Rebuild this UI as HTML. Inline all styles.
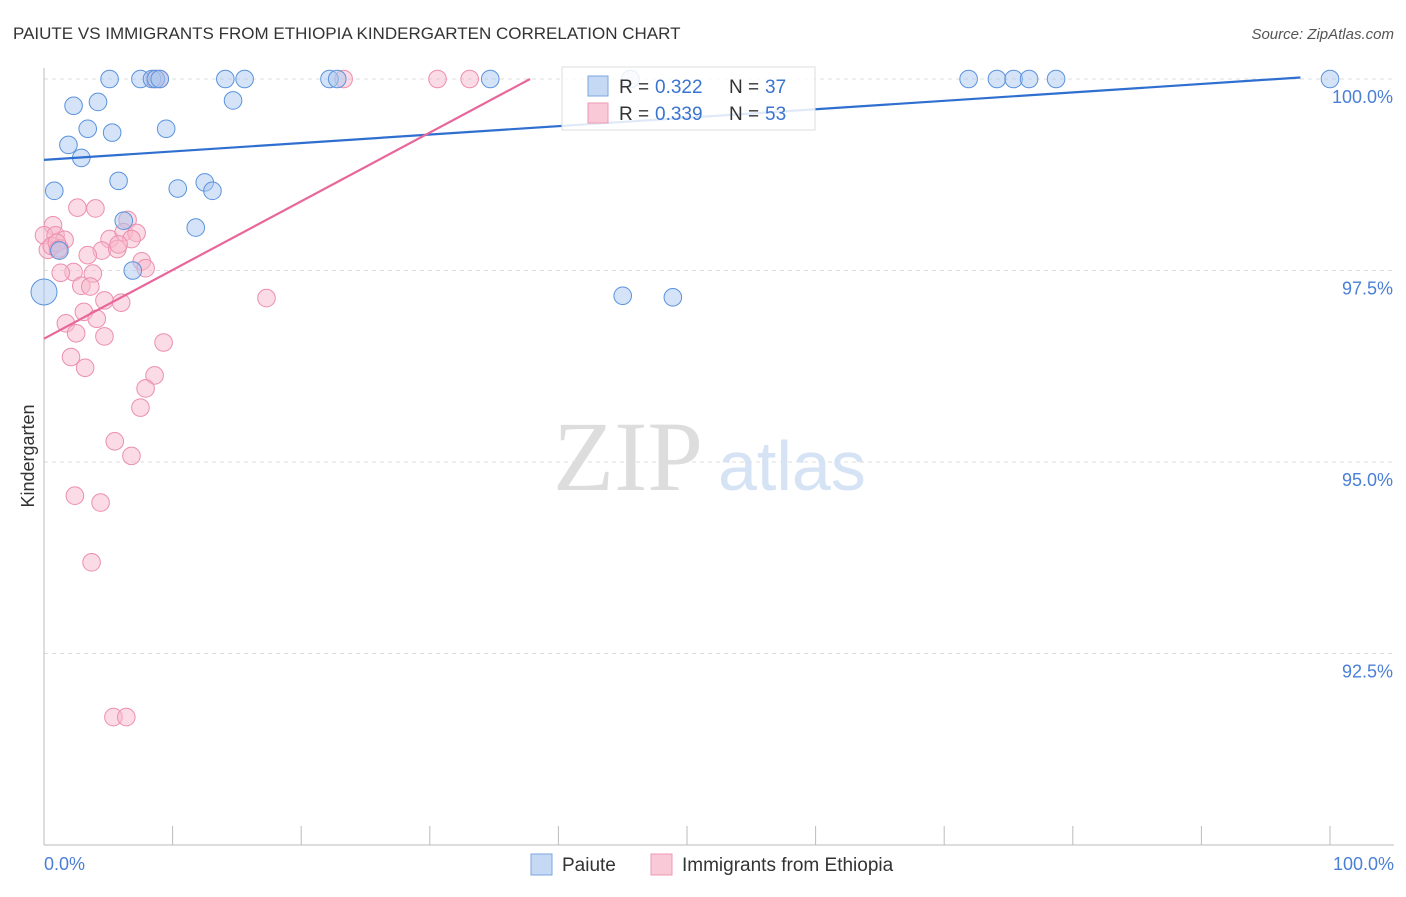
<!DOCTYPE html>
<html><head><meta charset="utf-8"><style>
body{margin:0;background:#fff;font-family:"Liberation Sans",sans-serif}
svg text{font-family:"Liberation Sans",sans-serif}
</style></head><body>
<svg width="1406" height="892">
<text x="13" y="39" font-size="17" fill="#333">PAIUTE VS IMMIGRANTS FROM ETHIOPIA KINDERGARTEN CORRELATION CHART</text>
<text x="1394" y="39" font-size="15" fill="#555" text-anchor="end" font-style="italic">Source: ZipAtlas.com</text>
<g id="grid"></g>
<text x="553" y="490" font-size="100" fill="#ddd" style="font-family:'Liberation Serif',serif">ZIP</text>
<text x="718" y="490" font-size="70" fill="#d6e3f5">atlas</text>
<line x1="44" y1="68" x2="44" y2="845" stroke="#bbb"/>
<line x1="44" y1="845" x2="1394" y2="845" stroke="#bbb"/>
<text transform="translate(34,456) rotate(-90)" font-size="18" fill="#333" text-anchor="middle">Kindergarten</text>
<text x="44" y="870" font-size="18" fill="#4a7fd6">0.0%</text>
<text x="1394" y="870" font-size="18" fill="#4a7fd6" text-anchor="end">100.0%</text>
<g id="marks"></g>
<g>
<rect x="562" y="67" width="253" height="63" fill="#fff" fill-opacity="0.85" stroke="#ddd"/>
<rect x="588" y="76" width="20" height="20" fill="#c5d9f5" stroke="#7aa6e0"/>
<rect x="588" y="103" width="20" height="20" fill="#f9c9d8" stroke="#ee99b5"/>
<text x="619" y="93" font-size="19" fill="#333">R =</text>
<text x="655" y="93" font-size="19" fill="#3a74d0">0.322</text>
<text x="729" y="93" font-size="19" fill="#333">N =</text>
<text x="765" y="93" font-size="19" fill="#3a74d0">37</text>
<text x="619" y="120" font-size="19" fill="#333">R =</text>
<text x="655" y="120" font-size="19" fill="#3a74d0">0.339</text>
<text x="729" y="120" font-size="19" fill="#333">N =</text>
<text x="765" y="120" font-size="19" fill="#3a74d0">53</text>
</g>
<g>
<rect x="531" y="854" width="21" height="21" fill="#c5d9f5" stroke="#7aa6e0"/>
<text x="562" y="871" font-size="19" fill="#333">Paiute</text>
<rect x="651" y="854" width="21" height="21" fill="#f9c9d8" stroke="#ee99b5"/>
<text x="682" y="871" font-size="19" fill="#333">Immigrants from Ethiopia</text>
</g>
</svg>
<script>
const yTicks=[100,97.5,95,92.5];
const yTickLabels=["100.0%","97.5%","95.0%","92.5%"];
const blueX=[5.1,7.5,8.4,8.7,14.1,15.6,22.2,22.8,34.7,45.6,71.9,74.1,75.4,76.6,78.7,100,2.3,4.2,14.7,3.4,5.3,9.5,1.9,2.9,0.8,5.8,10.4,12.5,13.1,6.2,11.8,6.9,0,45,48.9,1.2,9];
const blueY=[100,100,100,100,100,100,100,100,100,100,100,100,100,100,100,100,99.65,99.7,99.72,99.35,99.3,99.35,99.14,98.97,98.54,98.67,98.57,98.65,98.54,98.15,98.06,97.5,97.22,97.17,97.15,97.76,100];
const pinkX=[8.6,9,23.3,30.6,33.1,2.6,4,0.7,0,0.9,1.6,5.1,6.5,6.2,7.2,6.8,4.5,5.7,1.2,0.3,0.6,2.3,3.8,1.3,7.6,7.9,3.4,2.9,3.6,4.7,6,17.3,3.1,4.1,1.7,2.5,4.7,9.3,2.1,3.2,8.6,7.9,7.5,5.5,6.8,2.4,4.4,3.7,5.4,6.4,1.0,1.1,5.8];
const pinkY=[100,100,100,100,100,98.32,98.31,98.09,97.96,97.96,97.9,97.91,98.16,98,97.99,97.91,97.76,97.78,97.79,97.77,97.82,97.48,97.46,97.47,97.62,97.53,97.7,97.3,97.29,97.11,97.08,97.14,96.96,96.87,96.81,96.68,96.64,96.56,96.37,96.23,96.13,95.96,95.71,95.27,95.08,94.56,94.47,93.69,91.67,91.67,97.86,97.77,97.84];
const blueLine=[98.944,100.02];
const pinkLine=[96.61,100];
const X0=44,X1=1330,YT=79,YB=845;
function sx(v){return X0+(X1-X0)*v/100}
function sy(v){return YT+(100-v)*(YB-YT)/10}
const NS="http://www.w3.org/2000/svg";
const grid=document.getElementById('grid'),marks=document.getElementById('marks');
yTicks.forEach((t,i)=>{
 const l=document.createElementNS(NS,'line');
 l.setAttribute('x1',44);l.setAttribute('x2',1394);l.setAttribute('y1',sy(t));l.setAttribute('y2',sy(t));
 l.setAttribute('stroke','#ddd');l.setAttribute('stroke-dasharray','4,4');
 
 
 grid.appendChild(l);
 const tx=document.createElementNS(NS,'text');
 tx.setAttribute('x',1393);tx.setAttribute('y',sy(t)+24);tx.setAttribute('text-anchor','end');
 tx.setAttribute('font-size','18');tx.setAttribute('fill','#4a7fd6');tx.textContent=yTickLabels[i];
 
 
 grid.appendChild(tx);
});
for(let i=0;i<=10;i++){
 const l=document.createElementNS(NS,'line');
 const x=sx(i*10);
 l.setAttribute('x1',x);l.setAttribute('x2',x);l.setAttribute('y1',826);l.setAttribute('y2',845);l.setAttribute('stroke','#bbb');
 
 
 grid.appendChild(l);
}
function dots(xs,ys,fill,stroke,name){
 xs.forEach((x,i)=>{
  const c=document.createElementNS(NS,'circle');
  c.setAttribute('cx',sx(x));c.setAttribute('cy',sy(ys[i]));
  c.setAttribute('r',(x===0&&name==='paiute-point')?13:8.8);
  c.setAttribute('fill',fill);c.setAttribute('fill-opacity','0.5');c.setAttribute('stroke',stroke);c.setAttribute('stroke-width','1');
  
  
  marks.appendChild(c);
 });
}
dots(pinkX,pinkY,'#f7b8cc','#ec8fae','ethiopia-point');
dots(blueX,blueY,'#aac8f0','#5b93dd','paiute-point');
function line(a,xEnd,col,name){
 const l=document.createElementNS(NS,'line');
 const slope=(a[1]-a[0])/xEnd;
 let x2=xEnd; if(a[0]+slope*100<=100)x2=100;
 l.setAttribute('x1',sx(0));l.setAttribute('y1',sy(a[0]));
 l.setAttribute('x2',sx(x2));l.setAttribute('y2',sy(a[0]+slope*x2));
 l.setAttribute('stroke',col);l.setAttribute('stroke-width','2.2');
 
 
 marks.appendChild(l);
}
line(blueLine,97.7,'#2f6fd0','paiute-trend-line');
line(pinkLine,37.8,'#e8669a','ethiopia-trend-line');
</script>
</body></html>
